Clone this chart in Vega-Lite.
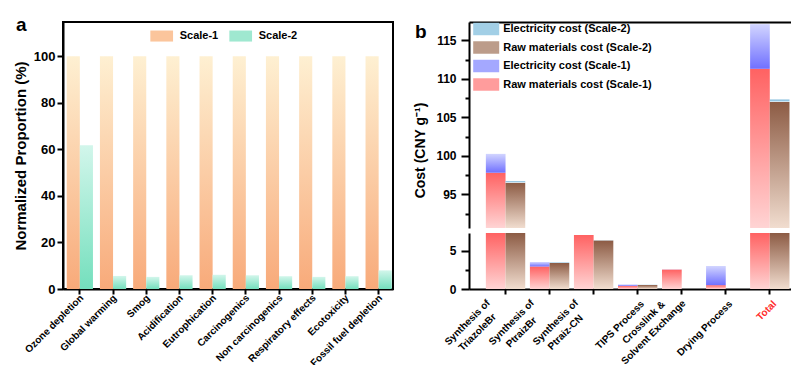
{
  "$schema": "https://vega.github.io/schema/vega-lite/v6.json",
  "padding": {"left": 12, "top": 15, "right": 0, "bottom": 0},
  "config": {
    "font": "Liberation Sans",
    "view": {"stroke": null},
    "axis": {"grid": false, "domainColor": "black", "domainWidth": 2, "tickColor": "black", "tickWidth": 2, "labelColor": "black", "labelFontWeight": "bold", "titleFontWeight": "bold", "titleColor": "black", "labelFont": "Liberation Sans", "titleFont": "Liberation Sans"},
    "legend": {"labelFont": "Liberation Sans", "labelFontWeight": "bold", "labelColor": "black", "labelFontSize": 11, "symbolStrokeWidth": 0, "padding": 0, "symbolOpacity": 1},
    "title": {"font": "Liberation Sans", "fontWeight": "bold", "fontSize": 19, "color": "black"}
  },
  "datasets": {
    "impact": [
      {"category": "Ozone depletion", "scale": "Scale-1", "value": 100},
      {"category": "Ozone depletion", "scale": "Scale-2", "value": 61.7},
      {"category": "Global warming", "scale": "Scale-1", "value": 100},
      {"category": "Global warming", "scale": "Scale-2", "value": 5.6},
      {"category": "Smog", "scale": "Scale-1", "value": 100},
      {"category": "Smog", "scale": "Scale-2", "value": 5.2},
      {"category": "Acidification", "scale": "Scale-1", "value": 100},
      {"category": "Acidification", "scale": "Scale-2", "value": 5.9},
      {"category": "Eutrophication", "scale": "Scale-1", "value": 100},
      {"category": "Eutrophication", "scale": "Scale-2", "value": 6.1},
      {"category": "Carcinogenics", "scale": "Scale-1", "value": 100},
      {"category": "Carcinogenics", "scale": "Scale-2", "value": 5.9},
      {"category": "Non carcinogenics", "scale": "Scale-1", "value": 100},
      {"category": "Non carcinogenics", "scale": "Scale-2", "value": 5.5},
      {"category": "Respiratory effects", "scale": "Scale-1", "value": 100},
      {"category": "Respiratory effects", "scale": "Scale-2", "value": 5.2},
      {"category": "Ecotoxicity", "scale": "Scale-1", "value": 100},
      {"category": "Ecotoxicity", "scale": "Scale-2", "value": 5.5},
      {"category": "Fossil fuel depletion", "scale": "Scale-1", "value": 100},
      {"category": "Fossil fuel depletion", "scale": "Scale-2", "value": 8.0}
    ],
    "costs": [
      {"step": "Synthesis of\nTriazoleBr", "scale": "Scale-1", "component": "Raw materials", "series": "Raw materials cost (Scale-1)", "value": 97.8},
      {"step": "Synthesis of\nTriazoleBr", "scale": "Scale-1", "component": "Electricity", "series": "Electricity cost (Scale-1)", "value": 2.45},
      {"step": "Synthesis of\nTriazoleBr", "scale": "Scale-2", "component": "Raw materials", "series": "Raw materials cost (Scale-2)", "value": 96.5},
      {"step": "Synthesis of\nTriazoleBr", "scale": "Scale-2", "component": "Electricity", "series": "Electricity cost (Scale-2)", "value": 0.2},
      {"step": "Synthesis of\nPtraizBr", "scale": "Scale-1", "component": "Raw materials", "series": "Raw materials cost (Scale-1)", "value": 2.92},
      {"step": "Synthesis of\nPtraizBr", "scale": "Scale-1", "component": "Electricity", "series": "Electricity cost (Scale-1)", "value": 0.6},
      {"step": "Synthesis of\nPtraizBr", "scale": "Scale-2", "component": "Raw materials", "series": "Raw materials cost (Scale-2)", "value": 3.39},
      {"step": "Synthesis of\nPtraizBr", "scale": "Scale-2", "component": "Electricity", "series": "Electricity cost (Scale-2)", "value": 0.05},
      {"step": "Synthesis of\nPtraiz-CN", "scale": "Scale-1", "component": "Raw materials", "series": "Raw materials cost (Scale-1)", "value": 7.04},
      {"step": "Synthesis of\nPtraiz-CN", "scale": "Scale-1", "component": "Electricity", "series": "Electricity cost (Scale-1)", "value": 0.0},
      {"step": "Synthesis of\nPtraiz-CN", "scale": "Scale-2", "component": "Raw materials", "series": "Raw materials cost (Scale-2)", "value": 6.31},
      {"step": "Synthesis of\nPtraiz-CN", "scale": "Scale-2", "component": "Electricity", "series": "Electricity cost (Scale-2)", "value": 0.03},
      {"step": "TIPS Process", "scale": "Scale-1", "component": "Raw materials", "series": "Raw materials cost (Scale-1)", "value": 0.4},
      {"step": "TIPS Process", "scale": "Scale-1", "component": "Electricity", "series": "Electricity cost (Scale-1)", "value": 0.2},
      {"step": "TIPS Process", "scale": "Scale-2", "component": "Raw materials", "series": "Raw materials cost (Scale-2)", "value": 0.52},
      {"step": "TIPS Process", "scale": "Scale-2", "component": "Electricity", "series": "Electricity cost (Scale-2)", "value": 0.02},
      {"step": "Crosslink &\nSolvent Exchange", "scale": "Scale-1", "component": "Raw materials", "series": "Raw materials cost (Scale-1)", "value": 2.53},
      {"step": "Crosslink &\nSolvent Exchange", "scale": "Scale-1", "component": "Electricity", "series": "Electricity cost (Scale-1)", "value": 0.02},
      {"step": "Crosslink &\nSolvent Exchange", "scale": "Scale-2", "component": "Raw materials", "series": "Raw materials cost (Scale-2)", "value": 0},
      {"step": "Crosslink &\nSolvent Exchange", "scale": "Scale-2", "component": "Electricity", "series": "Electricity cost (Scale-2)", "value": 0},
      {"step": "Drying Process", "scale": "Scale-1", "component": "Raw materials", "series": "Raw materials cost (Scale-1)", "value": 0.5},
      {"step": "Drying Process", "scale": "Scale-1", "component": "Electricity", "series": "Electricity cost (Scale-1)", "value": 2.5},
      {"step": "Drying Process", "scale": "Scale-2", "component": "Raw materials", "series": "Raw materials cost (Scale-2)", "value": 0},
      {"step": "Drying Process", "scale": "Scale-2", "component": "Electricity", "series": "Electricity cost (Scale-2)", "value": 0},
      {"step": "Total", "scale": "Scale-1", "component": "Raw materials", "series": "Raw materials cost (Scale-1)", "value": 111.3},
      {"step": "Total", "scale": "Scale-1", "component": "Electricity", "series": "Electricity cost (Scale-1)", "value": 5.8},
      {"step": "Total", "scale": "Scale-2", "component": "Raw materials", "series": "Raw materials cost (Scale-2)", "value": 107.0},
      {"step": "Total", "scale": "Scale-2", "component": "Electricity", "series": "Electricity cost (Scale-2)", "value": 0.3}
    ]
  },
  "resolve": {"scale": {"x": "independent", "y": "independent", "color": "independent", "xOffset": "independent"}, "axis": {"x": "independent", "y": "independent"}, "legend": {"color": "independent"}},
  "spacing": 19,
  "hconcat": [
    {
      "width": 330,
      "height": 267,
      "view": {"stroke": "black", "strokeWidth": 2},
      "title": {"text": "a", "anchor": "start", "frame": "group", "dx": -47, "dy": 13, "offset": 0},
      "data": {"name": "impact"},
      "encoding": {
        "x": {"field": "category", "type": "nominal", "sort": null,
          "scale": {"paddingInner": 0.21, "paddingOuter": 0.075, "align": 0.75},
          "axis": {"title": null, "labelAngle": -45, "labelFontSize": 10, "tickSize": 5, "labelPadding": 2, "labelBaseline": "middle", "labelAlign": "right", "labelOffset": 2}},
        "xOffset": {"field": "scale", "type": "nominal", "scale": {"domain": ["Scale-1", "Scale-2"]}},
        "y": {"field": "value", "type": "quantitative",
          "scale": {"domain": [0, 114.7], "nice": false},
          "axis": {"values": [0, 20, 40, 60, 80, 100], "title": "Normalized Proportion (%)", "titleFontSize": 15, "labelFontSize": 13, "tickSize": 6, "labelPadding": 2, "titlePadding": 5}}
      },
      "layer": [
        {
          "mark": {"type": "bar"},
          "encoding": {
            "fill": {"condition": {"test": "datum.scale == 'Scale-1'",
                "value": {"gradient": "linear", "x1": 0, "y1": 0, "x2": 0, "y2": 1, "stops": [{"offset": 0, "color": "#fef0d2"}, {"offset": 1, "color": "#f8aa7a"}]}},
              "value": {"gradient": "linear", "x1": 0, "y1": 0, "x2": 0, "y2": 1, "stops": [{"offset": 0, "color": "#d2f6eb"}, {"offset": 1, "color": "#74dfbd"}]}}
          }
        },
        {
          "mark": {"type": "bar", "opacity": 0},
          "encoding": {
            "color": {"field": "scale", "type": "nominal",
              "scale": {"domain": ["Scale-1", "Scale-2"], "range": ["#fbc59c", "#9fe8d0"]},
              "legend": {"title": null, "orient": "none", "direction": "horizontal", "legendX": 92.7, "legendY": 7.8, "symbolType": "M-2,-0.97H2V0.97H-2Z", "symbolSize": 129, "labelOffset": 12, "columnPadding": 10}}
          }
        }
      ]
    },
    {
      "spacing": 5,
      "resolve": {"scale": {"y": "independent", "color": "independent"}, "axis": {"x": "independent", "y": "independent"}, "legend": {"color": "independent"}},
      "vconcat": [
        {
          "width": 323,
          "height": 206,
          "title": {"text": "b", "anchor": "start", "frame": "group", "dx": -54, "dy": 20, "offset": 0},
          "data": {"name": "costs"},
          "layer": [
            {
              "mark": {"type": "bar", "clip": true},
              "encoding": {
                "x": {"field": "step", "type": "nominal", "sort": null,
                  "scale": {"paddingInner": 0.106, "paddingOuter": 0.22, "align": 0.87},
                  "axis": {"orient": "top", "labels": false, "ticks": false, "title": null}},
                "xOffset": {"field": "scale", "type": "nominal", "scale": {"domain": ["Scale-1", "Scale-2"]}},
                "y": {"field": "value", "type": "quantitative", "stack": "zero",
                  "scale": {"domain": [90.62, 117.38], "nice": false, "zero": false, "clamp": true},
                  "axis": {"values": [92.5, 95, 97.5, 100, 102.5, 105, 107.5, 110, 112.5, 115],
                    "labelExpr": "datum.value % 5 == 0 ? datum.label : ''",
                    "tickSize": {"condition": {"test": "datum.value % 5 != 0", "value": 4}, "value": 8},
                    "labelFontSize": 12, "labelPadding": 5,
                    "title": "Cost (CNY g⁻¹)", "titleFontSize": 14, "titlePadding": 8, "titleY": 128}},
                "detail": {"field": "series", "type": "nominal"},
                "fill": {"condition": [
                    {"test": "datum.series == 'Electricity cost (Scale-2)'", "value": {"gradient": "linear", "x1": 0, "y1": 0, "x2": 0, "y2": 1, "stops": [{"offset": 0, "color": "#62a9d3"}, {"offset": 1, "color": "#e2f0f7"}]}},
                    {"test": "datum.series == 'Raw materials cost (Scale-2)'", "value": {"gradient": "linear", "x1": 0, "y1": 0, "x2": 0, "y2": 1, "stops": [{"offset": 0, "color": "#8c5b44"}, {"offset": 1, "color": "#f1ddcf"}]}},
                    {"test": "datum.series == 'Electricity cost (Scale-1)'", "value": {"gradient": "linear", "x1": 0, "y1": 0, "x2": 0, "y2": 1, "stops": [{"offset": 0, "color": "#d2d5ff"}, {"offset": 1, "color": "#7070ff"}]}}
                  ],
                  "value": {"gradient": "linear", "x1": 0, "y1": 0, "x2": 0, "y2": 1, "stops": [{"offset": 0, "color": "#ff6262"}, {"offset": 1, "color": "#ffd4d4"}]}},
                "order": {"field": "component", "sort": "descending"}
              }
            },
            {
              "mark": {"type": "bar", "opacity": 0, "clip": true},
              "encoding": {
                "y": {"field": "value", "type": "quantitative",
                  "scale": {"domain": [90.62, 117.38], "nice": false, "zero": false, "clamp": true},
                  "axis": {"orient": "right", "labels": false, "ticks": false, "title": null}},
                "color": {"field": "series", "type": "nominal",
                  "scale": {"domain": ["Electricity cost (Scale-2)", "Raw materials cost (Scale-2)", "Electricity cost (Scale-1)", "Raw materials cost (Scale-1)"], "range": ["#a2cfe6", "#bc9c8a", "#a4a8ff", "#ff9c9c"]},
                  "legend": {"title": null, "orient": "none", "direction": "vertical", "legendX": 10.7, "legendY": 0.5, "symbolType": "M-2,-0.96H2V0.96H-2Z", "symbolSize": 169, "labelOffset": 10.5, "rowPadding": 5.5}}
              }
            }
          ],
          "resolve": {"axis": {"y": "independent"}}
        },
        {
          "width": 323,
          "height": 56,
          "data": {"name": "costs"},
          "layer": [
            {
              "mark": {"type": "bar", "clip": true},
              "encoding": {
                "x": {"field": "step", "type": "nominal", "sort": null,
                  "scale": {"paddingInner": 0.106, "paddingOuter": 0.22, "align": 0.87},
                  "axis": {"title": null, "labelAngle": -45, "labelFontSize": 10, "tickSize": 5, "labelLineHeight": 14,
                    "labelExpr": "split(datum.label, '\\n')",
                    "labelBaseline": "middle",
                    "labelAlign": {"condition": {"test": "indexof(datum.value, '\\n') >= 0", "value": "center"}, "value": "right"},
                    "labelPadding": {"condition": {"test": "indexof(datum.value, '\\n') >= 0", "value": 28}, "value": 8},
                    "labelOffset": {"condition": {"test": "indexof(datum.value, '\\n') >= 0", "value": -38}, "value": 5},
                    "labelColor": {"condition": {"test": "datum.value == 'Total'", "value": "#ff2a2a"}, "value": "black"}}},
                "xOffset": {"field": "scale", "type": "nominal", "scale": {"domain": ["Scale-1", "Scale-2"]}},
                "y": {"field": "value", "type": "quantitative", "stack": "zero",
                  "scale": {"domain": [0, 7.3], "nice": false, "clamp": true},
                  "axis": {"values": [0, 2.5, 5], "labelExpr": "datum.value % 5 == 0 ? datum.label : ''",
                    "tickSize": {"condition": {"test": "datum.value % 5 != 0", "value": 4}, "value": 8},
                    "labelFontSize": 12, "labelPadding": 5, "title": null}},
                "detail": {"field": "series", "type": "nominal"},
                "fill": {"condition": [
                    {"test": "datum.series == 'Electricity cost (Scale-2)'", "value": {"gradient": "linear", "x1": 0, "y1": 0, "x2": 0, "y2": 1, "stops": [{"offset": 0, "color": "#62a9d3"}, {"offset": 1, "color": "#e2f0f7"}]}},
                    {"test": "datum.series == 'Raw materials cost (Scale-2)'", "value": {"gradient": "linear", "x1": 0, "y1": 0, "x2": 0, "y2": 1, "stops": [{"offset": 0, "color": "#8c5b44"}, {"offset": 1, "color": "#f1ddcf"}]}},
                    {"test": "datum.series == 'Electricity cost (Scale-1)'", "value": {"gradient": "linear", "x1": 0, "y1": 0, "x2": 0, "y2": 1, "stops": [{"offset": 0, "color": "#d2d5ff"}, {"offset": 1, "color": "#7070ff"}]}}
                  ],
                  "value": {"gradient": "linear", "x1": 0, "y1": 0, "x2": 0, "y2": 1, "stops": [{"offset": 0, "color": "#ff6262"}, {"offset": 1, "color": "#ffd4d4"}]}},
                "order": {"field": "component", "sort": "descending"}
              }
            },
            {
              "mark": {"type": "bar", "opacity": 0, "clip": true},
              "encoding": {
                "y": {"field": "value", "type": "quantitative",
                  "scale": {"domain": [0, 7.3], "nice": false, "clamp": true},
                  "axis": {"orient": "right", "labels": false, "ticks": false, "title": null}}
              }
            }
          ],
          "resolve": {"axis": {"y": "independent"}}
        }
      ]
    }
  ]
}
